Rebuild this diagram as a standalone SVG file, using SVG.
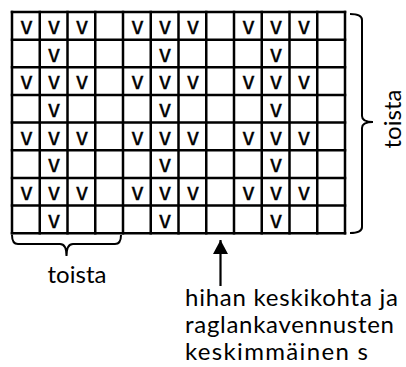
<svg xmlns="http://www.w3.org/2000/svg" width="406" height="367" viewBox="0 0 406 367">
<style>
.g{stroke:#000;stroke-width:2.5;fill:none;stroke-linecap:square}
.v{font-family:"Liberation Sans","Open Sans",sans-serif;font-size:23px;fill:#000;stroke:#000;stroke-width:0.4;text-anchor:middle}
.br{stroke:#000;stroke-width:2;fill:none}
.lbl{font-family:Lato,"Open Sans","Liberation Sans",sans-serif;font-size:24px;fill:#000}
.ar{stroke:#000;stroke-width:2.2;fill:none}
</style>
<defs>
<marker id="ah" markerUnits="userSpaceOnUse" markerWidth="14" markerHeight="15" refX="14" refY="7.5" orient="auto">
<path d="M0,0 L14,7.5 L0,15 z" fill="#000"/>
</marker>
</defs>
<rect width="406" height="367" fill="#fff"/>
<g id="grid">
<path class="g" d="M12,12H345M12,39.65H345M12,67.3H345M12,94.95H345M12,122.6H345M12,150.25H345M12,177.9H345M12,205.55H345M12,233.2H345"/>
<path class="g" d="M12,12V233.2M39.75,12V233.2M67.5,12V233.2M95.25,12V233.2M123,12V233.2M150.75,12V233.2M178.5,12V233.2M206.25,12V233.2M234,12V233.2M261.75,12V233.2M289.5,12V233.2M317.25,12V233.2M345,12V233.2"/>
</g>
<g id="stitches">
<g id="row1"><text class="v" x="26.4" y="34">v</text><text class="v" x="54.1" y="34">v</text><text class="v" x="81.9" y="34">v</text><text class="v" x="137.4" y="34">v</text><text class="v" x="165.1" y="34">v</text><text class="v" x="192.9" y="34">v</text><text class="v" x="248.4" y="34">v</text><text class="v" x="276.1" y="34">v</text><text class="v" x="303.9" y="34">v</text></g>
<g id="row2"><text class="v" x="54.1" y="61.6">v</text><text class="v" x="165.1" y="61.6">v</text><text class="v" x="276.1" y="61.6">v</text></g>
<g id="row3"><text class="v" x="26.4" y="89.3">v</text><text class="v" x="54.1" y="89.3">v</text><text class="v" x="81.9" y="89.3">v</text><text class="v" x="137.4" y="89.3">v</text><text class="v" x="165.1" y="89.3">v</text><text class="v" x="192.9" y="89.3">v</text><text class="v" x="248.4" y="89.3">v</text><text class="v" x="276.1" y="89.3">v</text><text class="v" x="303.9" y="89.3">v</text></g>
<g id="row4"><text class="v" x="54.1" y="116.9">v</text><text class="v" x="165.1" y="116.9">v</text><text class="v" x="276.1" y="116.9">v</text></g>
<g id="row5"><text class="v" x="26.4" y="144.6">v</text><text class="v" x="54.1" y="144.6">v</text><text class="v" x="81.9" y="144.6">v</text><text class="v" x="137.4" y="144.6">v</text><text class="v" x="165.1" y="144.6">v</text><text class="v" x="192.9" y="144.6">v</text><text class="v" x="248.4" y="144.6">v</text><text class="v" x="276.1" y="144.6">v</text><text class="v" x="303.9" y="144.6">v</text></g>
<g id="row6"><text class="v" x="54.1" y="172.2">v</text><text class="v" x="165.1" y="172.2">v</text><text class="v" x="276.1" y="172.2">v</text></g>
<g id="row7"><text class="v" x="26.4" y="199.9">v</text><text class="v" x="54.1" y="199.9">v</text><text class="v" x="81.9" y="199.9">v</text><text class="v" x="137.4" y="199.9">v</text><text class="v" x="165.1" y="199.9">v</text><text class="v" x="192.9" y="199.9">v</text><text class="v" x="248.4" y="199.9">v</text><text class="v" x="276.1" y="199.9">v</text><text class="v" x="303.9" y="199.9">v</text></g>
<g id="row8"><text class="v" x="54.1" y="227.5">v</text><text class="v" x="165.1" y="227.5">v</text><text class="v" x="276.1" y="227.5">v</text></g>
</g>
<g id="brace-right">
<path class="br" d="M350,14 Q362,14 362,20 L362,116 Q362,122 373,122 Q362,122 362,128 L362,227 Q362,233 350,233"/>
<text class="lbl" transform="translate(401,119) rotate(-90)" text-anchor="middle">toista</text>
</g>
<g id="brace-bottom">
<path class="br" d="M12,235 Q12,244 18,244 L60,244 Q66.5,244 66.5,256 Q66.5,244 73,244 L115,244 Q121,244 121,235"/>
<text class="lbl" x="77" y="283" text-anchor="middle">toista</text>
</g>
<g id="connectors">
<line class="ar" x1="220.5" y1="286" x2="220.5" y2="240" marker-end="url(#ah)"/>
</g>
<g id="label-center">
<text class="lbl" x="185" y="306" textLength="213" lengthAdjust="spacing">hihan keskikohta ja</text>
<text class="lbl" x="185" y="333" textLength="209" lengthAdjust="spacing">raglankavennusten</text>
<text class="lbl" x="185" y="360" textLength="183" lengthAdjust="spacing">keskimmäinen s</text>
</g>
</svg>
